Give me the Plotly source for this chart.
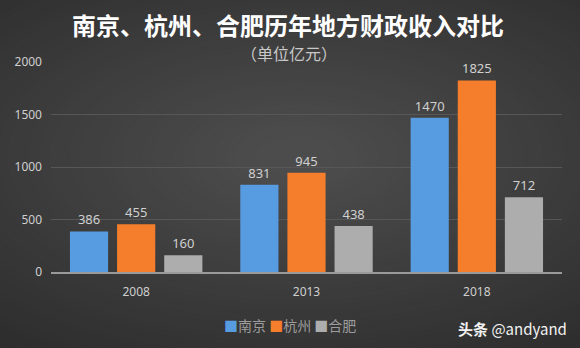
import plotly.graph_objects as go

# Local fiscal revenue (100 million yuan)
years = ["2008", "2013", "2018"]
cities = ["南京", "杭州", "合肥"]
nanjing = [386, 831, 1470]
hangzhou = [455, 945, 1825]
hefei = [160, 438, 712]
y_ticks = [0, 500, 1000, 1500, 2000]

series = [nanjing, hangzhou, hefei]
colors = ["#579be0", "#f47e2b", "#adadad"]

num_font = "Noto Sans, DejaVu Sans, sans-serif"
cjk_font = "Noto Sans CJK SC, sans-serif"

W, H = 580, 348
ML, MR, MT, MB = 51, 18, 62, 76

fig = go.Figure()
for name, vals, col in zip(cities, series, colors):
    fig.add_trace(go.Bar(
        x=years, y=vals, name=name,
        marker=dict(color=col, line=dict(width=0)),
        text=[str(v) for v in vals],
        textposition="outside",
        cliponaxis=False,
        textfont=dict(family=num_font, size=13, color="#d0d0d0"),
    ))

# soft radial background: concentric ellipses, darker toward the edges
shapes = []
steps = 48
for i in range(steps):
    t = i / (steps - 1)
    g = 0x2a + (0x4c - 0x2a) * t
    sx = 0.95 * (1 - t) + 0.08
    sy = 1.15 * (1 - t) + 0.10
    shapes.append(dict(
        type="circle", xref="paper", yref="paper", layer="below",
        x0=0.48 - sx, x1=0.48 + sx, y0=0.55 - sy, y1=0.55 + sy,
        fillcolor=f"rgb({g:.0f},{g:.0f},{g:.0f})", line=dict(width=0),
    ))

# helpers to place texts by pixel position relative to the plot area
pw, ph = W - ML - MR, H - MT - MB
def px(x):
    return (x - ML) / pw
def py(y):
    return (H - MB - y) / ph

legend_text = "&nbsp;".join(
    f"<span style='color:{c}'>■</span>{n}" for n, c in zip(cities, colors)
)

fig.update_layout(
    width=W, height=H,
    margin=dict(l=ML, r=MR, t=MT, b=MB, autoexpand=False),
    paper_bgcolor="#2a2a2a",
    plot_bgcolor="rgba(0,0,0,0)",
    barmode="group",
    bargap=0.17,
    bargroupgap=0.19,
    showlegend=False,
    shapes=shapes,
    annotations=[
        dict(text="<b>南京、杭州、合肥历年地方财政收入对比</b>",
             x=px(288), y=py(25), xanchor="center", yanchor="middle",
             xref="paper", yref="paper", showarrow=False, borderpad=0,
             font=dict(family=cjk_font, size=24, color="#ffffff")),
        dict(text="（单位亿元）", x=px(289), y=py(53),
             xanchor="center", yanchor="middle",
             xref="paper", yref="paper", showarrow=False, borderpad=0,
             font=dict(family=cjk_font, size=16, color="#c8c8c8")),
        dict(text=legend_text, x=px(290), y=py(325),
             xanchor="center", yanchor="middle",
             xref="paper", yref="paper", showarrow=False,
             font=dict(family=cjk_font, size=14, color="#9c9c9c")),
        dict(text="<b>头条</b> @andyand", x=px(569), y=py(328),
             xanchor="right", yanchor="middle",
             xref="paper", yref="paper", showarrow=False,
             font=dict(family=cjk_font, size=15, color="#f2f2f2")),
    ],
)

fig.update_xaxes(
    type="category", showgrid=False, zeroline=False,
    showline=True, linecolor="#9a9a9a", linewidth=2,
    ticks="", tickfont=dict(family=num_font, size=12, color="#cfcfcf"),
    ticklabelstandoff=8,
)
fig.update_yaxes(
    range=[0, 2000], tickvals=y_ticks,
    showgrid=True, gridcolor="#575757", gridwidth=1,
    zeroline=False, showline=False, ticks="",
    tickfont=dict(family=num_font, size=12, color="#cfcfcf"),
    ticklabelstandoff=8,
)

fig.write_html("out.html")
